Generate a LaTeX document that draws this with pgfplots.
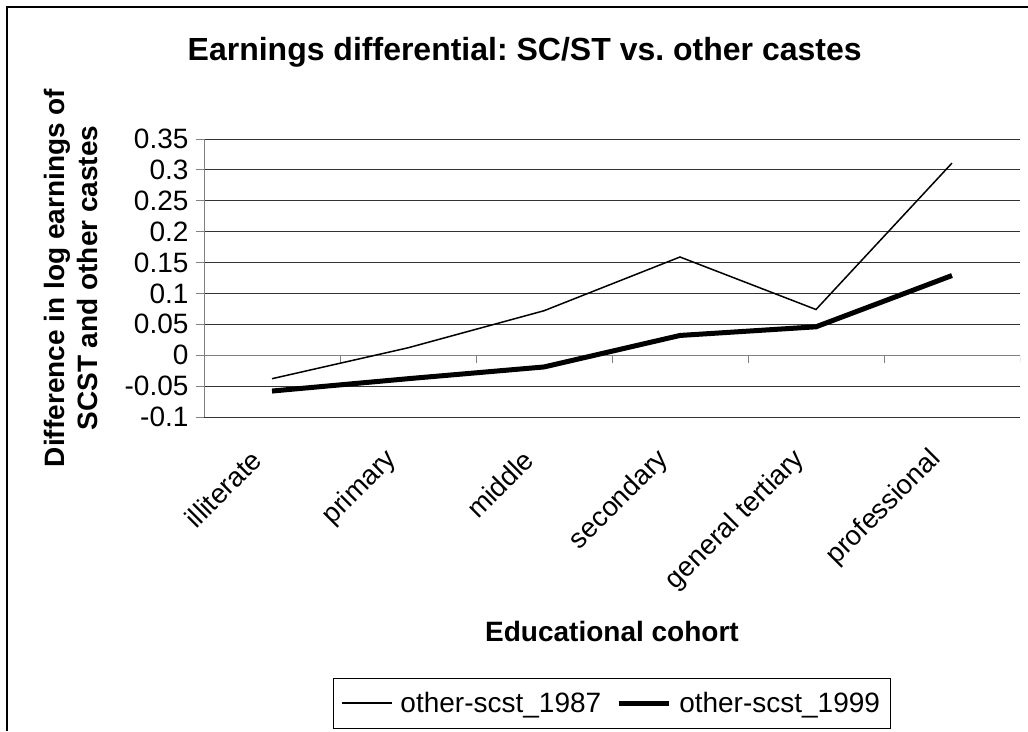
\documentclass[border=0pt]{standalone}
\usepackage{pgfplots}
\pgfplotsset{compat=1.18}
\usepackage{fontspec}
\setmainfont{Liberation Sans}
\frenchspacing
\begin{document}
\begin{tikzpicture}
\useasboundingbox (0,0) rectangle (1028pt,731pt);
\draw[line width=2.5pt] (7pt,0pt) -- (7pt,724pt) -- (1028pt,724pt);
\begin{axis}[
  at={(204pt,314pt)}, anchor=south west,
  scale only axis, width=816pt, height=278pt,
  xmin=-0.5, xmax=5.5, ymin=-0.1, ymax=0.35,
  axis x line*=bottom, axis y line*=left,
  x axis line style={draw=none},
  y axis line style={draw=black!50, line width=1pt, -},
  xtick={0,1,2,3,4,5},
  xticklabels={illiterate,primary,middle,secondary,general tertiary,professional},
  xtick style={draw=none},
  xticklabel style={xshift=-13pt, rotate=45, anchor=east, font=\fontsize{27.5}{27.5}\selectfont},
  xticklabel shift=28pt,
  ytick={-0.1,-0.05,0,0.05,0.1,0.15,0.2,0.25,0.3,0.35},
  yticklabels={-0.1,-0.05,0,0.05,0.1,0.15,0.2,0.25,0.3,0.35},
  yticklabel style={font=\fontsize{28}{28}\selectfont, xshift=-4pt},
  ytick style={draw=black!50, line width=1pt},
  tick align=outside, major tick length=8pt,
  ymajorgrids, grid style={draw=black!80, line width=1pt},
  title={Earnings differential: SC/ST vs. other castes},
  title style={at={(axis description cs:0.393,1.29)}, anchor=center, font=\bfseries\fontsize{32}{32}\selectfont},
  xlabel={Educational cohort},
  xlabel style={at={(axis description cs:0.5,-0.77)}, anchor=center, font=\bfseries\fontsize{28}{28}\selectfont},
  ylabel={Difference in log earnings of\\SCST and other castes},
  ylabel style={at={(axis description cs:-0.163,0.5)}, anchor=center, align=center, font=\bfseries\fontsize{28}{33}\selectfont},
  legend columns=2,
  legend style={at={(axis description cs:0.4994,-1.029)}, anchor=center, draw=black, line width=0.8pt,
    font=\fontsize{28}{28}\selectfont, inner xsep=8pt, inner ysep=12pt,
    /tikz/every odd column/.append style={column sep=6pt},
    /tikz/every even column/.append style={column sep=13pt}},
  legend image code/.code={\draw[#1] (0pt,0pt) -- (50pt,0pt);},
]
\draw[black!50, line width=1pt] (axis cs:-0.5,0) -- (axis cs:5.5,0);
\pgfplotsinvokeforeach{-0.5,0.5,1.5,2.5,3.5,4.5,5.5}{
  \draw[black!50, line width=1pt] (axis cs:#1,0) -- ++(0pt,-8pt);
}
\addplot[black, line width=1.5pt] coordinates {(0,-0.038) (1,0.012) (2,0.072) (3,0.159) (4,0.074) (5,0.311)};
\addlegendentry{other-scst\_1987}
\addplot[black, line width=5pt] coordinates {(0,-0.058) (1,-0.038) (2,-0.019) (3,0.032) (4,0.046) (5,0.129)};
\addlegendentry{other-scst\_1999}
\end{axis}
\end{tikzpicture}
\end{document}
